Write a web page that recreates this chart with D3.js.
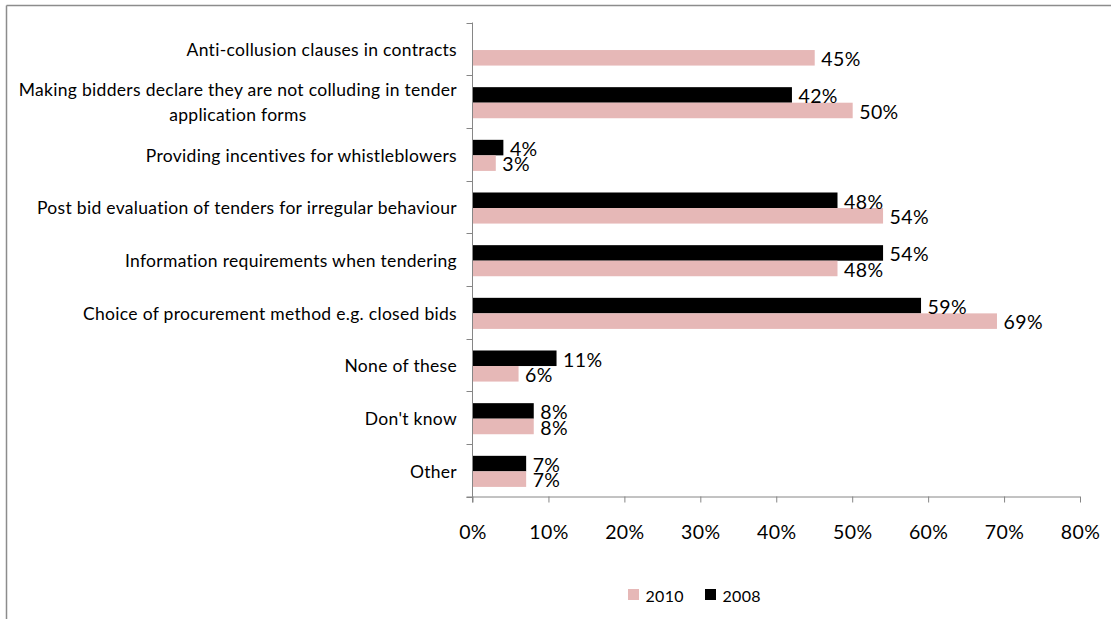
<!DOCTYPE html>
<html>
<head>
<meta charset="utf-8">
<script src="https://cdn.jsdelivr.net/npm/d3@7"></script>
<style>
  html, body { margin: 0; padding: 0; background: #fff; }
  svg { display: block; }
  text { font-family: Lato, "Liberation Sans", sans-serif; fill: #000; }
</style>
</head>
<body>
<svg id="chart" width="1111" height="619"></svg>
<script>
// Survey responses: measures used against bid collusion
const categories = [
  ["Anti-collusion clauses in contracts"],
  ["Making bidders declare they are not colluding in tender", "application forms"],
  ["Providing incentives for whistleblowers"],
  ["Post bid evaluation of tenders for irregular behaviour"],
  ["Information requirements when tendering"],
  ["Choice of procurement method e.g. closed bids"],
  ["None of these"],
  ["Don't know"],
  ["Other"]
];
const values2010 = [45, 50, 3, 54, 48, 69, 6, 8, 7];
const values2008 = [null, 42, 4, 48, 54, 59, 11, 8, 7];
const xTicks = [0, 10, 20, 30, 40, 50, 60, 70, 80];
const seriesNames = ["2010", "2008"];
const seriesColors = ["#E6B8B7", "#000000"];

const svg = d3.select("#chart");

// outer frame (only top and left edges fall inside the view)
svg.append("line").attr("x1", 6.5).attr("x2", 1111).attr("y1", 5.5).attr("y2", 5.5)
  .attr("stroke", "#8c8c8c").attr("stroke-width", 1.5);
svg.append("line").attr("x1", 6.5).attr("x2", 6.5).attr("y1", 5.5).attr("y2", 619)
  .attr("stroke", "#8c8c8c").attr("stroke-width", 1.5);

const plotLeft = 472.5, plotRight = 1080, plotTop = 22.5, plotBottom = 496.5;

const x = d3.scaleLinear().domain([0, 80]).range([plotLeft, plotRight]);
const y = d3.scaleBand().domain(d3.range(categories.length)).range([plotTop, plotBottom]);
const barH = y.bandwidth() * 0.295;

const valueFont = { size: "19.5px", spacing: "0.4px" };
const labelFont = { size: "17.5px", spacing: "0.3px" };

// axes
const axisColor = "#868686";
const xAxis = svg.append("g").attr("transform", `translate(0,${plotBottom})`)
  .call(d3.axisBottom(x).tickValues(xTicks).tickSize(6).tickPadding(0).tickFormat(d => d + "%"));
xAxis.select(".domain").attr("stroke", axisColor).attr("d", `M${plotLeft - 6},0.5H${plotRight}`);
xAxis.selectAll(".tick line").attr("stroke", axisColor);
xAxis.selectAll(".tick text").attr("y", 36).attr("dy", "0.35em")
  .style("font-size", valueFont.size).style("letter-spacing", valueFont.spacing)
  .style("font-family", "Lato, sans-serif");

const yAxisG = svg.append("g");
yAxisG.append("line").attr("x1", plotLeft).attr("x2", plotLeft).attr("y1", plotTop).attr("y2", plotBottom + 6)
  .attr("stroke", axisColor);
yAxisG.selectAll("line.tk").data(d3.range(categories.length + 1)).join("line")
  .attr("class", "tk")
  .attr("x1", plotLeft - 6).attr("x2", plotLeft)
  .attr("y1", i => Math.round(plotTop + i * y.step()) + 0.5)
  .attr("y2", i => Math.round(plotTop + i * y.step()) + 0.5)
  .attr("stroke", axisColor);

// category labels, right-aligned block; wrapped lines centered within the block
const labelRight = 457;
categories.forEach((lines, i) => {
  const cy = y(i) + y.bandwidth() / 2 + 1.5;
  const g = svg.append("g")
    .style("font-size", labelFont.size).style("letter-spacing", labelFont.spacing);
  if (lines.length === 1) {
    g.append("text").attr("x", labelRight).attr("y", cy).attr("dy", "0.35em")
      .attr("text-anchor", "end").text(lines[0]);
  } else {
    const t = g.append("text").attr("x", labelRight).attr("y", cy - 13).attr("dy", "0.35em")
      .attr("text-anchor", "end").text(lines[0]);
    const w = t.node().getComputedTextLength();
    const mid = labelRight - w / 2;
    g.append("text").attr("x", mid).attr("y", cy + 12).attr("dy", "0.35em")
      .attr("text-anchor", "middle").text(lines[1]);
  }
});

// bars: 2008 on top, 2010 below within each band
const rows = [];
categories.forEach((c, i) => {
  const cy = y(i) + y.bandwidth() / 2 + 1.2;
  if (values2008[i] != null) rows.push({ i, v: values2008[i], y0: cy - barH, color: seriesColors[1] });
  if (values2010[i] != null) rows.push({ i, v: values2010[i], y0: cy, color: seriesColors[0] });
});

svg.append("g").selectAll("rect").data(rows).join("rect")
  .attr("x", x(0) + 0.5)
  .attr("y", d => d.y0)
  .attr("width", d => x(d.v) - x(0))
  .attr("height", barH)
  .attr("fill", d => d.color);

svg.append("g").selectAll("text").data(rows).join("text")
  .attr("x", d => x(d.v) + 7)
  .attr("y", d => d.y0 + barH / 2 + 1.5)
  .attr("dy", "0.35em")
  .style("font-size", valueFont.size)
  .style("letter-spacing", valueFont.spacing)
  .text(d => d.v + "%");

// legend
const legend = svg.append("g").attr("transform", "translate(628,595)");
const legendItems = [
  { name: seriesNames[0], color: seriesColors[0], dx: 0 },
  { name: seriesNames[1], color: seriesColors[1], dx: 77 }
];
legendItems.forEach(it => {
  legend.append("rect").attr("x", it.dx).attr("y", -6).attr("width", 11).attr("height", 11)
    .attr("fill", it.color);
  legend.append("text").attr("x", it.dx + 17.5).attr("y", 1.5).attr("dy", "0.35em")
    .style("font-size", "16px").style("letter-spacing", "0.3px").text(it.name);
});
</script>
</body>
</html>
